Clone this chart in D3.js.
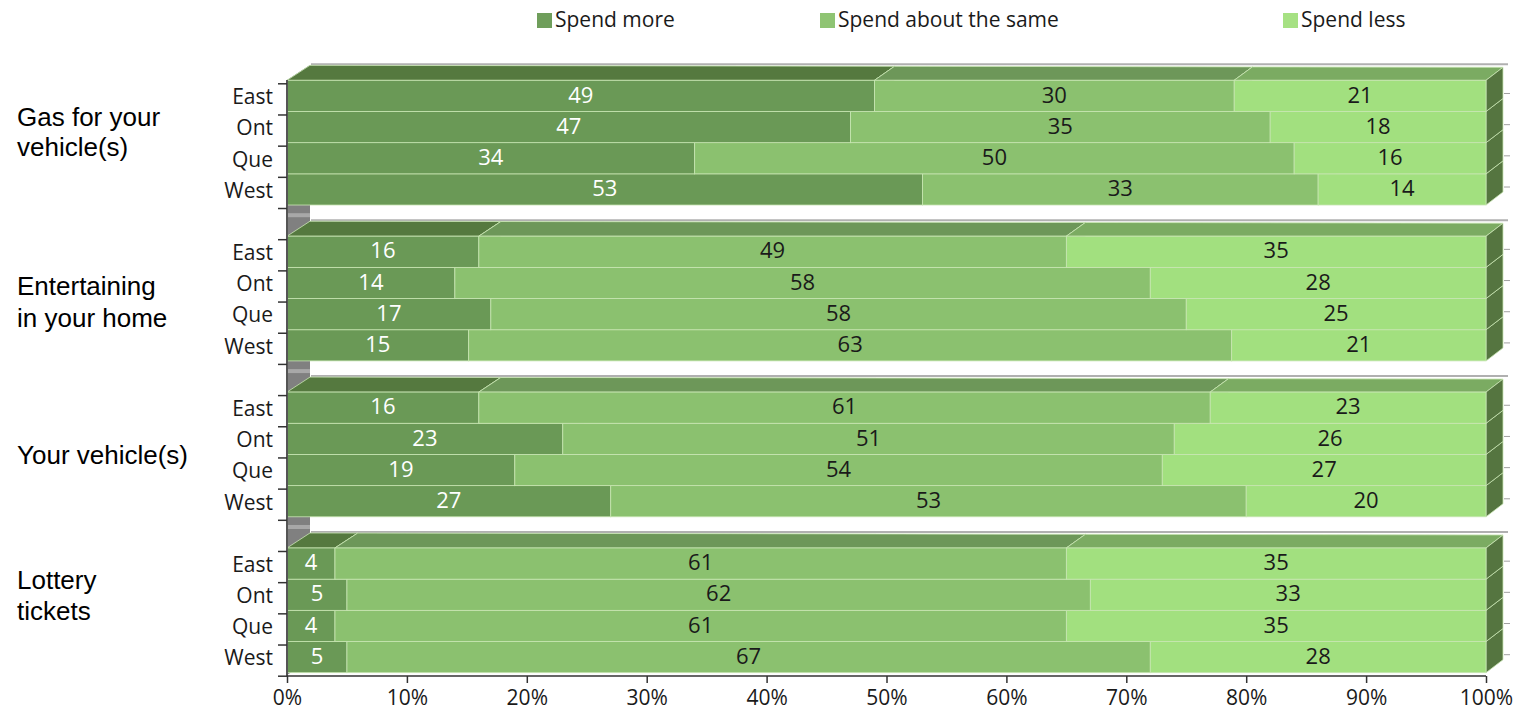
<!DOCTYPE html>
<html><head><meta charset="utf-8">
<script src="https://cdn.jsdelivr.net/npm/d3@7"></script>
<style>body{margin:0;background:#fff}svg{display:block}</style>
</head><body>
<svg id="c" width="1518" height="711"></svg>
<script>
const regions = ["East","Ont","Que","West"];
const groupLabels = [["Gas for your","vehicle(s)"],["Entertaining","in your home"],["Your vehicle(s)"],["Lottery","tickets"]];
const seriesNames = ["Spend more","Spend about the same","Spend less"];
const spendMore = [49,47,34,53, 16,14,17,15, 16,23,19,27, 4,5,4,5];
const spendSame = [30,35,50,33, 49,58,58,63, 61,51,54,53, 61,62,61,67];
const spendLess = [21,18,16,14, 35,28,25,21, 23,26,27,20, 35,33,35,28];
const xTicks = [0,10,20,30,40,50,60,70,80,90,100];

const frontCol = ["#6a9956","#8bc16f","#a2e07f"];
const topCol = ["#55793f","#6d9759","#7bab62"];
const sideCol = "#557540";
const legendCol = ["#6f9e5b","#8fc473","#a6e183"];
const edge = "#c9e6b4";
const FONT = "'Open Sans', sans-serif";

const svg = d3.select("#c");
const x = d3.scaleLinear().domain([0,100]).range([287,1486]);
const nSlots = 19;
const yLin = d3.scaleLinear().domain([0,nSlots]).range([83.3,675.7]);
const y = d3.scaleBand().domain(d3.range(nSlots)).range([83.3,675.7]).padding(0);
const bw = y.bandwidth();
const shift = -3;
const dxF = px => 23 - 6*(px-287)/1199;
const dyF = px => -15 + 2*(px-287)/1199;
const back = (px,py) => [px+dxF(px), py+dyF(px)];

// left wall (floor)
svg.append("polygon")
  .attr("points", [[287,80],[310,65],[310,660],[287,675]].map(p=>p.join(",")).join(" "))
  .attr("fill","#808080");

// back wall lines at group tops
const groupSlots = [0,5,10,15];
groupSlots.forEach(s=>{
  const yb = y(s)+shift-16;
  if (s>0) svg.append("rect").attr("x",287).attr("y",yb-7).attr("width",23).attr("height",4).attr("fill","#a8a8a8");
  svg.append("line").attr("x1",311).attr("x2",1508).attr("y1",yb).attr("y2",yb)
    .attr("stroke","#b0b0b0").attr("stroke-width",2);
});

// right back ticks
d3.range(1,20).forEach(i=>{
  if (i%5===0) return;
  const yy = yLin(i)-21;
  svg.append("line").attr("x1",1504).attr("x2",1510).attr("y1",yy).attr("y2",yy)
    .attr("stroke","#a0a0a0").attr("stroke-width",1);
});

// build rows
const rows = [];
for (let g=0; g<4; g++) for (let r=0; r<4; r++) {
  const i = g*4+r;
  const vals = [spendMore[i], spendSame[i], spendLess[i]];
  const tot = d3.sum(vals);
  let acc = 0;
  const segs = vals.map((v,k)=>{ const s={k, v, x0:acc/tot*100, x1:(acc+v)/tot*100}; acc+=v; return s; });
  rows.push({slot:g*5+r, g, r, segs});
}
const order = rows.slice().sort((a,b)=>b.slot-a.slot);
const barsG = svg.append("g");
order.forEach(row=>{
  const y0 = y(row.slot)+shift, y1 = y0+bw;
  row.segs.forEach(s=>{
    const X0 = x(s.x0), X1 = x(s.x1);
    const b0 = back(X0,y0), b1 = back(X1,y0), b1b = back(X1,y1);
    barsG.append("polygon")
      .attr("points",[[X0,y0],b0,b1,[X1,y0]].map(p=>p.join(",")).join(" "))
      .attr("fill",topCol[s.k]).attr("stroke",edge).attr("stroke-width",0.8).attr("stroke-linejoin","round");
    barsG.append("polygon")
      .attr("points",[[X1,y0],b1,b1b,[X1,y1]].map(p=>p.join(",")).join(" "))
      .attr("fill",sideCol).attr("stroke",edge).attr("stroke-width",0.8);
    barsG.append("rect").attr("x",X0).attr("y",y0).attr("width",X1-X0).attr("height",bw)
      .attr("fill",frontCol[s.k]).attr("stroke",edge).attr("stroke-width",0.8);
  });
});
// data labels
rows.forEach(row=>{
  const yc = y(row.slot)+shift+bw/2;
  row.segs.forEach(s=>{
    svg.append("text").attr("x",(x(s.x0)+x(s.x1))/2).attr("y",yc-1)
      .attr("dy","0.35em").attr("text-anchor","middle")
      .attr("font-family",FONT).attr("font-size",22)
      .attr("fill", s.k===0 ? "#ffffff" : "#1a1a1a").text(s.v);
  });
});

// y axis
svg.append("line").attr("x1",287).attr("x2",287).attr("y1",80).attr("y2",676)
  .attr("stroke","#555").attr("stroke-width",2);
const yAxis = svg.append("g").attr("transform","translate(287,0)")
  .call(d3.axisLeft(yLin).tickValues(d3.range(20)).tickSize(9).tickFormat(""));
yAxis.select(".domain").remove();
yAxis.selectAll("line").attr("stroke","#333").attr("stroke-width",1.5);
rows.forEach(row=>{
  svg.append("text").attr("x",273).attr("y",y(row.slot)+bw/2-2)
    .attr("dy","0.35em").attr("text-anchor","end")
    .attr("font-family",FONT).attr("font-size",21).attr("fill","#1a1a1a")
    .text(regions[row.r]);
});

// x axis
const xAxis = svg.append("g").attr("transform","translate(0,676)")
  .call(d3.axisBottom(x).tickValues(xTicks).tickSize(7).tickFormat(d=>d+"%"));
xAxis.select(".domain").attr("stroke","#333").attr("stroke-width",1.5).attr("d","M287,0H1486");
xAxis.selectAll(".tick line").attr("stroke","#333").attr("stroke-width",1.5);
xAxis.selectAll("text").attr("font-family",FONT).attr("font-size",21)
  .attr("fill","#1a1a1a").attr("y",10).attr("dy","0.9em");

// group labels
const glY = [[117,147],[286,318],[455],[580,611]];
groupLabels.forEach((lines,g)=>{
  lines.forEach((t,j)=>{
    svg.append("text").attr("x",17).attr("y",glY[g][j]).attr("dy","0.35em")
      .attr("font-family","'Liberation Sans', Arial, sans-serif").attr("font-size",26)
      .attr("fill","#000").text(t);
  });
});

// legend
const legX = [537,820,1283];
seriesNames.forEach((n,k)=>{
  svg.append("rect").attr("x",legX[k]).attr("y",13).attr("width",15).attr("height",15).attr("fill",legendCol[k]);
  svg.append("text").attr("x",legX[k]+18).attr("y",20).attr("dy","0.35em")
    .attr("font-family",FONT).attr("font-size",21).attr("fill","#1a1a1a").text(n);
});
</script>
</body></html>
